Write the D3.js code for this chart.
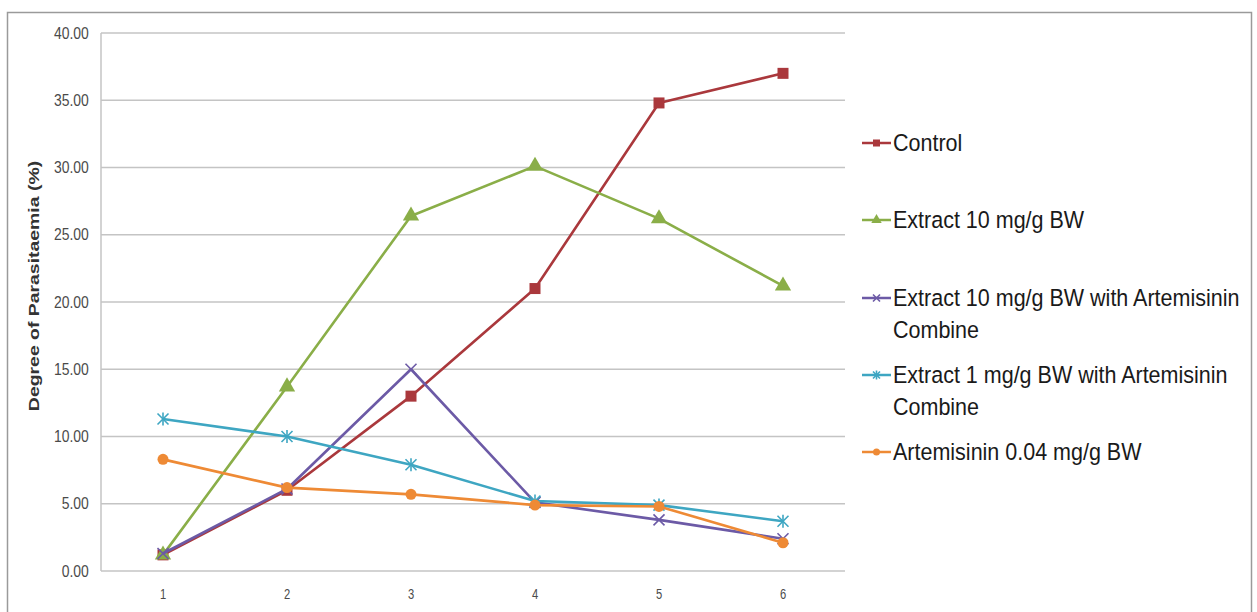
<!DOCTYPE html>
<html>
<head>
<meta charset="utf-8">
<script src="https://cdn.jsdelivr.net/npm/d3@7"></script>
<style>
  html, body { margin: 0; padding: 0; background: #fff; }
  svg { display: block; }
</style>
</head>
<body>
<svg id="chart" width="1257" height="612"></svg>
<script>
// ---- data ----
const categories = [1, 2, 3, 4, 5, 6];
const yTicks = [0, 5, 10, 15, 20, 25, 30, 35, 40];
const seriesNames = [
  "Control",
  "Extract 10 mg/g BW",
  "Extract 10 mg/g BW with Artemisinin Combine",
  "Extract 1 mg/g BW with Artemisinin Combine",
  "Artemisinin 0.04 mg/g BW"
];
const controlValues   = [1.2, 6.0, 13.0, 21.0, 34.8, 37.0];
const extract10Values = [1.2, 13.7, 26.4, 30.1, 26.2, 21.2];
const ext10ArtValues  = [1.3, 6.1, 15.0, 5.1, 3.8, 2.4];
const ext1ArtValues   = [11.3, 10.0, 7.9, 5.2, 4.9, 3.7];
const artemisValues   = [8.3, 6.2, 5.7, 4.9, 4.8, 2.1];
const yTitle = "Degree of Parasitaemia (%)";

const seriesStyle = [
  { color: "#AA383C", marker: "square" },
  { color: "#8AAE48", marker: "triangle" },
  { color: "#6C5AA6", marker: "x" },
  { color: "#3EA6C2", marker: "star" },
  { color: "#EE8A35", marker: "circle" }
];
const seriesValues = [controlValues, extract10Values, ext10ArtValues, ext1ArtValues, artemisValues];

// ---- layout ----
const svg = d3.select("#chart");
const plot = { left: 101, right: 845, top: 33, bottom: 571 };
const FONT = "'Liberation Sans', Arial, sans-serif";
const SQ = 0.87;      // horizontal squeeze of tick text
const SQ_LEG = 0.915; // horizontal squeeze of legend text

// outer chart border
svg.append("rect").attr("x", 7.5).attr("y", 12.5).attr("width", 1244).attr("height", 612)
  .attr("fill", "#fff").attr("stroke", "#9a9a9a").attr("stroke-width", 1.5);

const x = d3.scaleBand().domain(categories).range([plot.left, plot.right]).padding(0);
const y = d3.scaleLinear().domain([0, 40]).range([plot.bottom, plot.top]);

// gridlines
svg.append("g").selectAll("line").data(yTicks).join("line")
  .attr("x1", plot.left).attr("x2", plot.right)
  .attr("y1", d => y(d)).attr("y2", d => y(d))
  .attr("stroke", "#c4c4c4").attr("stroke-width", 1.5);

// y axis line
svg.append("line").attr("x1", plot.left).attr("x2", plot.left)
  .attr("y1", plot.top).attr("y2", plot.bottom)
  .attr("stroke", "#c4c4c4").attr("stroke-width", 1.5);

// y axis
const yAxis = d3.axisLeft(y).tickValues(yTicks).tickFormat(d3.format(".2f")).tickSize(0).tickPadding(14);
const gy = svg.append("g").attr("transform", `translate(${plot.left},0)`).call(yAxis);
gy.select(".domain").remove();
gy.selectAll("text").attr("font-family", FONT).attr("font-size", 16).attr("fill", "#4a4a4a")
  .attr("transform", `scale(${SQ},1)`);

// x axis
const xAxis = d3.axisBottom(x).tickSize(0).tickPadding(18);
const gx = svg.append("g").attr("transform", `translate(0,${plot.bottom})`).call(xAxis);
gx.select(".domain").remove();
gx.selectAll("text").attr("font-family", FONT).attr("font-size", 14).attr("fill", "#4a4a4a")
  .attr("transform", `scale(0.8,1)`);

// y title
svg.append("text")
  .attr("transform", `translate(39,286) rotate(-90) scale(1.34,1)`)
  .attr("text-anchor", "middle")
  .attr("font-family", FONT)
  .attr("font-weight", "bold").attr("font-size", 14.5).attr("fill", "#333")
  .text(yTitle);

const cx = d => x(d) + x.bandwidth() / 2;

function drawMarker(g, type, color, px, py, s) {
  if (type === "square") {
    g.append("rect").attr("x", px - s / 2).attr("y", py - s / 2).attr("width", s).attr("height", s)
      .attr("fill", color);
  } else if (type === "triangle") {
    const sym = d3.symbol().type(d3.symbolTriangle).size(s * s * 0.95);
    g.append("path").attr("d", sym()).attr("transform", `translate(${px},${py})`).attr("fill", color);
  } else if (type === "circle") {
    g.append("circle").attr("cx", px).attr("cy", py).attr("r", s / 2).attr("fill", color);
  } else if (type === "x" || type === "star") {
    const h = s / 2;
    const p = g.append("g").attr("stroke", color).attr("stroke-width", 1.6).attr("fill", "none");
    p.append("line").attr("x1", px - h).attr("y1", py - h).attr("x2", px + h).attr("y2", py + h);
    p.append("line").attr("x1", px - h).attr("y1", py + h).attr("x2", px + h).attr("y2", py - h);
    if (type === "star") {
      p.append("line").attr("x1", px).attr("y1", py - h - 1).attr("x2", px).attr("y2", py + h + 1);
    }
  }
}

const line = d3.line().x((d, i) => cx(categories[i])).y(d => y(d));

seriesValues.forEach((vals, si) => {
  const st = seriesStyle[si];
  const g = svg.append("g");
  g.append("path").datum(vals).attr("d", line)
    .attr("fill", "none").attr("stroke", st.color).attr("stroke-width", 2.6)
    .attr("stroke-linejoin", "round");
  vals.forEach((v, i) => drawMarker(g, st.marker, st.color, cx(categories[i]), y(v), 11));
});

// legend
const legendLines = [
  [143],
  [220],
  [298, 330],
  [375, 407],
  [452]
];
const legendTexts = [
  ["Control"],
  ["Extract 10 mg/g BW"],
  ["Extract 10 mg/g BW with Artemisinin", "Combine"],
  ["Extract 1 mg/g BW with Artemisinin", "Combine"],
  ["Artemisinin 0.04 mg/g BW"]
];
legendTexts.forEach((lines, si) => {
  const st = seriesStyle[si];
  const g = svg.append("g");
  const ly = legendLines[si][0];
  g.append("line").attr("x1", 862).attr("x2", 891).attr("y1", ly).attr("y2", ly)
    .attr("stroke", st.color).attr("stroke-width", 2.5);
  drawMarker(g, st.marker, st.color, 876.5, ly, 7);
  lines.forEach((t, k) => {
    g.append("text")
      .attr("transform", `translate(893,${legendLines[si][k]}) scale(${SQ_LEG},1)`)
      .attr("dy", "0.36em")
      .attr("font-family", FONT).attr("font-size", 23.5).attr("fill", "#1a1a1a").text(t);
  });
});
</script>
</body>
</html>
